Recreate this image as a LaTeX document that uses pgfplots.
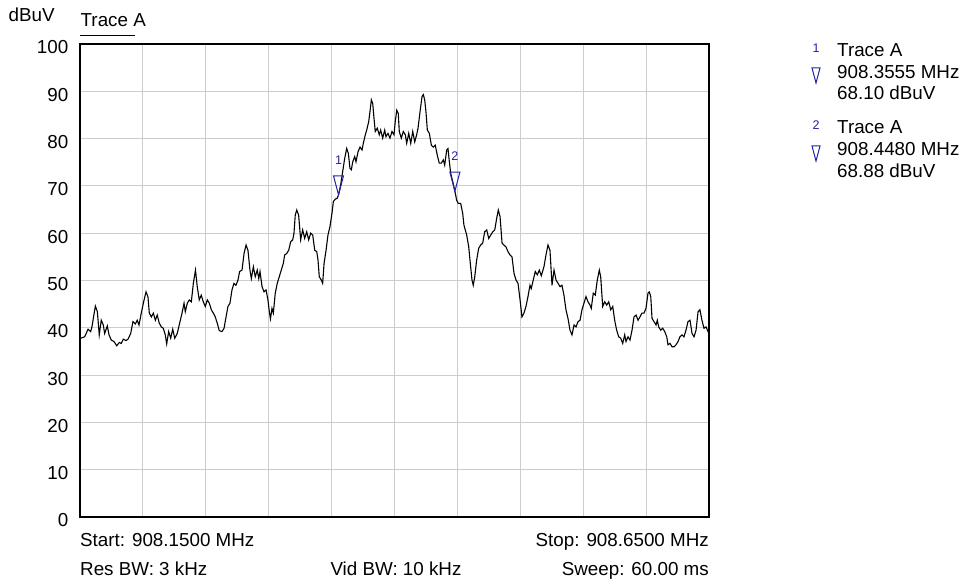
\documentclass[border=0pt]{standalone}
\usepackage{fontspec}
\setmainfont{Liberation Sans}
\usepackage{pgfplots}
\pgfplotsset{compat=1.18}
\definecolor{mblue}{RGB}{35,35,165}
\definecolor{gridgray}{RGB}{205,205,205}
\newcommand{\lbl}{\fontsize{18.8}{22}\selectfont}
\newcommand{\sml}{\fontsize{12.5}{14}\selectfont}
% marker triangle: apex on the trace point
\pgfdeclareplotmark{mkdown}{%
  \pgfpathmoveto{\pgfpoint{0pt}{0pt}}%
  \pgfpathlineto{\pgfpoint{-5pt}{19pt}}%
  \pgfpathlineto{\pgfpoint{5pt}{19pt}}%
  \pgfpathclose\pgfusepathqstroke}

\begin{document}
\begin{tikzpicture}
\path[use as bounding box] (0pt,0pt) rectangle (965pt,583pt);

\begin{axis}[
  at={(80pt,66pt)}, anchor=south west,
  width=629pt, height=473pt, scale only axis,
  % x: kHz above start frequency 908.1500 MHz (span 500 kHz)
  xmin=0, xmax=500, ymin=0, ymax=100,
  xtick={0,50,...,500}, xticklabels={},
  ytick={0,10,...,100},
  major tick length=0pt,
  grid=major,
  grid style={line width=1pt, draw=gridgray},
  axis line style={line width=1.6pt, black},
  /pgf/number format/assume math mode=true,
  yticklabel style={font=\lbl, anchor=east, inner sep=0pt, xshift=-11.5pt, yshift=-3.5pt},
  clip=true]

\addplot[black, line width=1.1pt] coordinates {
(0,38.2) (0.6,37.8) (3.7,38.1) (6.4,39.7) (8.5,39.2) (9.5,40.2) (12.2,44.6) (13.8,43.4)
(15.3,38.5) (16.9,41.6) (18.5,40.6) (19.6,38.8) (21.7,40.4) (23.1,38.5) (24.9,37.4)
(27.0,37.1) (29.2,36.2) (31.2,36.9) (32.8,36.7) (34.4,37.6) (36.6,37.3) (38.2,37.6)
(40.3,38.8) (42.1,41.3) (44.0,40.8) (45.5,41.6) (46.9,40.6) (48.7,43.1) (50.6,45.5)
(52.5,47.6) (54.0,46.6) (55.1,43.1) (56.7,42.3) (58.3,43.1) (59.9,41.6) (61.4,42.7)
(63.0,41.0) (64.6,40.2) (66.2,39.9) (67.8,38.5) (68.9,36.6) (70.5,39.2) (72.1,37.8)
(73.7,39.7) (75.3,37.8) (77.3,38.8) (79.5,41.3) (81.1,43.1) (82.7,45.2) (83.7,43.4)
(85.3,45.2) (86.9,45.9) (88.5,45.5) (90.1,49.4) (91.8,52.2) (93.2,48.7) (94.8,45.9)
(96.4,46.9) (98.0,45.5) (99.6,44.5) (101.2,45.9) (102.8,45.2) (104.4,43.8) (106.0,43.1)
(107.5,42.3) (109.1,41.0) (110.7,39.4) (112.9,39.2) (114.5,39.9) (116.1,42.3) (117.6,44.5)
(119.2,45.2) (120.8,48.0) (122.4,49.4) (124.0,49.0) (125.6,50.1) (126.9,51.9) (128.8,52.2)
(130.4,55.7) (132.0,57.5) (133.5,56.4) (135.1,52.2) (136.2,50.4) (137.8,52.9) (139.3,50.8)
(140.9,52.2) (142.1,50.4) (143.1,51.9) (144.7,48.7) (146.3,47.6) (147.9,48.0) (149.4,45.9)
(150.5,43.4) (151.4,41.9) (152.6,44.1) (153.7,43.1) (155.2,47.3) (156.8,49.4) (158.4,50.8)
(160.0,52.2) (161.6,53.6) (162.7,55.4) (164.3,55.7) (165.9,56.4) (167.5,58.2) (169.1,58.6)
(170.1,60.0) (171.1,63.8) (172.3,64.9) (173.8,63.8) (175.4,58.6) (177.0,60.7) (178.6,58.9)
(180.2,60.3) (181.8,58.6) (183.4,60.0) (185.0,59.6) (186.6,56.4) (188.2,56.1) (189.2,54.3)
(190.2,50.8) (191.8,50.1) (192.9,49.4) (194.0,53.6) (195.6,56.4) (197.1,59.6) (198.7,61.4)
(200.3,64.2) (201.4,66.7) (202.9,67.2) (204.5,67.4) (205.5,68.1) (207.2,70.2) (208.8,73.0)
(210.4,75.8) (212.0,77.9) (213.3,76.9) (214.6,73.7) (215.7,73.4) (216.8,75.1) (218.4,76.2)
(219.4,75.1) (221.0,77.2) (222.6,78.2) (224.2,77.6) (225.2,79.0) (226.8,80.8) (227.9,81.8)
(229.5,83.6) (230.5,85.7) (231.6,88.2) (232.7,87.4) (233.7,84.3) (234.7,81.5) (236.3,82.2)
(237.9,80.8) (239.0,81.8) (240.6,80.1) (242.2,81.8) (243.2,80.4) (244.8,81.1) (246.4,80.1)
(248.0,81.5) (249.6,80.8) (250.6,83.6) (251.8,86.0) (253.0,85.3) (253.8,81.5) (255.4,80.1)
(257.0,81.5) (258.6,80.8) (259.7,79.0) (261.3,81.1) (262.9,79.0) (264.5,81.5) (266.1,79.3)
(267.6,80.8) (268.7,82.2) (270.3,85.7) (271.9,88.9) (272.9,89.3) (274.0,88.2) (275.0,85.7)
(276.1,81.8) (277.7,81.1) (279.3,78.6) (280.8,78.2) (282.4,78.6) (284.0,76.5) (285.6,74.8)
(287.2,74.8) (288.8,75.5) (289.9,74.4) (291.5,77.6) (292.5,77.9) (293.6,75.1) (294.7,72.6)
(296.3,70.9) (298.0,68.88) (299.4,67.0) (300.7,66.3) (302.6,66.3) (304.2,64.2) (305.2,61.7)
(307.4,59.6) (309.0,57.1) (310.0,54.3) (311.6,50.1) (312.6,49.0) (313.8,50.8) (315.3,54.3)
(316.9,56.8) (318.5,57.5) (320.1,57.9) (321.7,60.3) (323.3,60.7) (324.9,58.9) (326.5,59.6)
(328.1,60.3) (329.7,60.7) (331.2,63.1) (332.5,64.9) (333.9,63.5) (335.5,57.9) (337.0,57.5)
(338.6,57.1) (340.2,56.1) (341.8,55.4) (343.4,55.0) (345.0,51.5) (346.6,50.1) (348.2,49.4)
(349.8,45.9) (351.3,42.3) (352.9,43.1) (354.5,44.5) (356.1,46.6) (357.7,49.0) (358.7,48.3)
(360.3,50.1) (361.9,51.9) (363.5,51.2) (365.1,52.2) (366.7,51.0) (368.8,52.9) (370.4,55.4)
(372.0,57.5) (373.6,56.4) (375.2,49.0) (376.8,52.2) (378.4,50.1) (380.0,49.4) (381.6,48.7)
(383.1,49.0) (384.7,46.9) (386.3,43.8) (387.9,42.0) (389.5,39.5) (391.1,38.5) (392.7,40.6)
(394.3,40.2) (395.9,41.3) (397.5,41.6) (399.0,43.8) (400.6,45.2) (402.2,46.6) (403.8,45.5)
(405.4,44.8) (406.4,44.1) (408.0,47.3) (409.6,46.9) (411.2,50.1) (412.8,52.2) (413.9,50.8)
(415.5,44.5) (417.1,45.5) (418.7,44.8) (420.3,45.5) (421.9,43.8) (423.5,44.5) (425.0,41.6)
(426.6,39.5) (428.2,38.1) (429.8,37.8) (431.4,36.7) (433.0,38.5) (434.0,37.1) (435.6,38.1)
(437.2,37.4) (438.8,39.5) (440.4,42.3) (442.0,42.7) (443.6,41.6) (445.1,42.3) (446.7,43.1)
(448.3,43.1) (449.9,44.1) (451.5,47.3) (452.5,47.6) (453.7,46.6) (454.7,42.0) (456.3,41.3)
(457.9,40.6) (458.9,41.6) (460.0,40.2) (461.6,39.5) (463.2,39.9) (464.8,39.2) (466.4,38.1)
(467.4,36.4) (469.0,36.7) (470.6,36.0) (472.2,36.0) (473.8,36.4) (475.4,37.1) (476.9,38.1)
(478.5,38.5) (480.1,38.1) (481.7,39.5) (483.3,41.3) (484.9,41.6) (486.5,38.8) (488.1,38.1)
(489.7,39.5) (491.3,43.4) (492.8,43.8) (494.4,41.6) (496.0,39.9) (497.6,40.2) (499.2,39.2)
(500.0,38.8)
};

% markers 1 and 2
\addplot[mblue, line width=1pt, only marks, mark=mkdown,
  point meta=explicit symbolic, nodes near coords,
  every node near coord/.append style={font=\sml, text=mblue, anchor=center,
    inner sep=0pt, yshift=35pt}]
  coordinates {(205.5,68.10) [1] (298.0,68.88) [2]};
\end{axis}

% header
\node[font=\lbl, anchor=base west, inner sep=0pt] at (8.5pt,561.5pt) {dBuV};
\node[font=\lbl, anchor=base west, inner sep=0pt] at (80.5pt,556.5pt) {Trace A};
\draw[line width=1pt] (80pt,547.5pt) -- (135pt,547.5pt);

% marker readout
\node[font=\sml, text=mblue, inner sep=0pt] at (816pt,535pt) {1};
\draw[mblue, line width=1pt] (812pt,515pt) -- (820pt,515pt) -- (816pt,500pt) -- cycle;
\node[font=\lbl, anchor=base west, inner sep=0pt] at (837pt,526.5pt) {Trace A};
\node[font=\lbl, anchor=base west, inner sep=0pt] at (837pt,504.5pt) {908.3555 MHz};
\node[font=\lbl, anchor=base west, inner sep=0pt] at (837pt,483pt) {68.10 dBuV};

\node[font=\sml, text=mblue, inner sep=0pt] at (816pt,458pt) {2};
\draw[mblue, line width=1pt] (812pt,437pt) -- (820pt,437pt) -- (816pt,422pt) -- cycle;
\node[font=\lbl, anchor=base west, inner sep=0pt] at (837pt,449.5pt) {Trace A};
\node[font=\lbl, anchor=base west, inner sep=0pt] at (837pt,427pt) {908.4480 MHz};
\node[font=\lbl, anchor=base west, inner sep=0pt] at (837pt,405.5pt) {68.88 dBuV};

% settings footer
\node[font=\lbl, anchor=base west, inner sep=0pt] at (80pt,36.5pt) {Start: 908.1500 MHz};
\node[font=\lbl, anchor=base east, inner sep=0pt] at (709pt,36.5pt) {Stop: 908.6500 MHz};
\node[font=\lbl, anchor=base west, inner sep=0pt] at (80pt,7.5pt) {Res BW: 3 kHz};
\node[font=\lbl, anchor=base, inner sep=0pt] at (396pt,7.5pt) {Vid BW: 10 kHz};
\node[font=\lbl, anchor=base east, inner sep=0pt] at (709pt,7.5pt) {Sweep: 60.00 ms};
\end{tikzpicture}
\end{document}
